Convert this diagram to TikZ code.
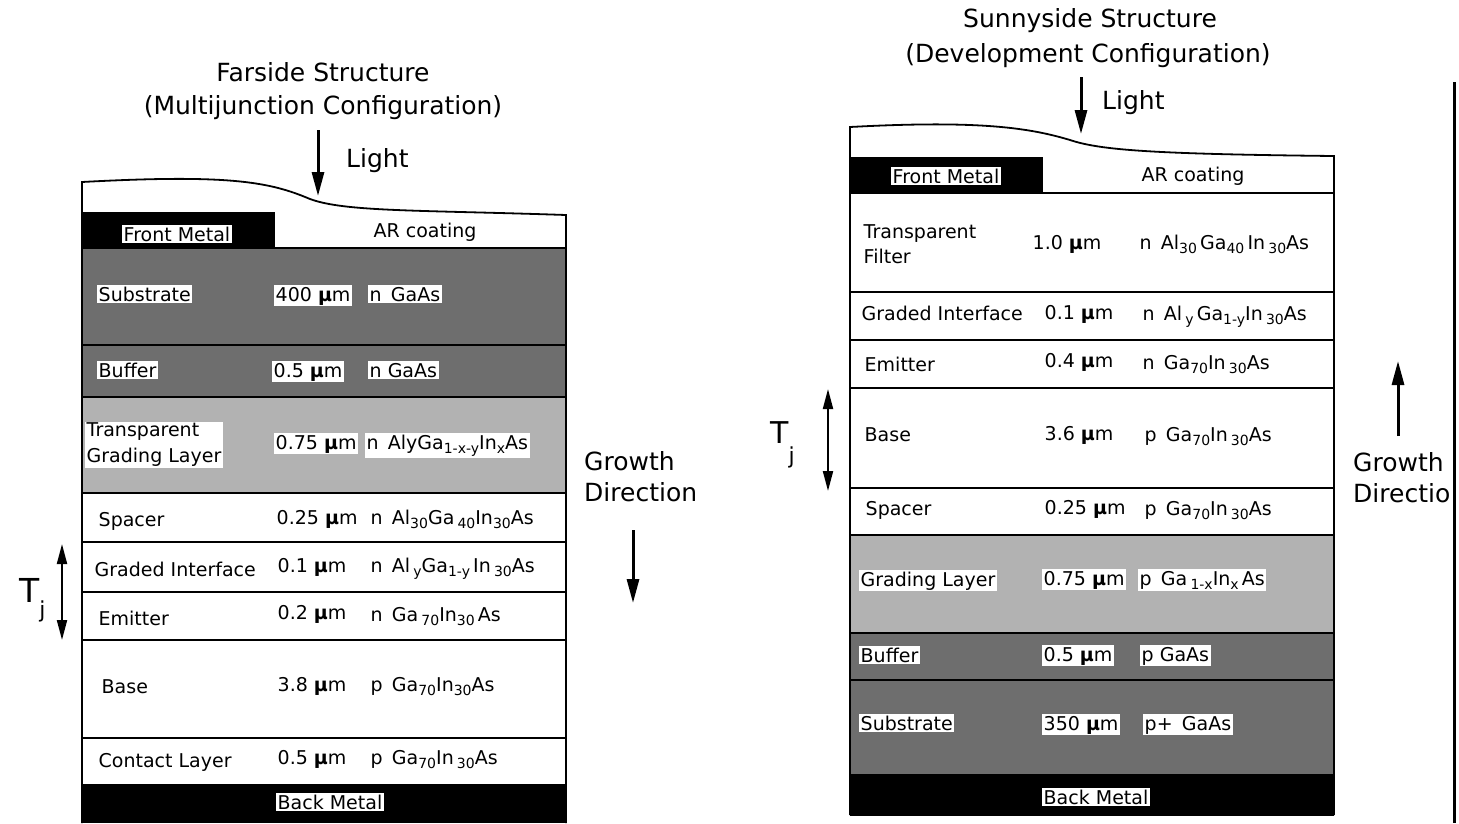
\documentclass[tikz,border=0pt]{standalone}
\usepackage{fontspec}
\setmainfont{DejaVu Sans}
\usetikzlibrary{arrows.meta}
\newcommand\sbx[1]{\raisebox{-0.45ex}{\fontsize{14}{14}\selectfont #1}}
\newcommand\um{{\bfseries µ}m}
\begin{document}
\begin{tikzpicture}[x=1pt,y=-1pt,
 lbl/.style={font=\fontsize{19}{23}\selectfont, inner sep=1.5pt, anchor=base west},
 wlbl/.style={lbl, fill=white},
 big/.style={font=\fontsize{25}{30}\selectfont, inner sep=0pt},
 lay/.style={draw=black, line width=1.8pt},
 thin/.style={draw=black, line width=1.2pt},
 dark/.style={fill=black!57},
 light/.style={fill=black!30},
 metal/.style={fill=black},
 bigarrow/.style={line width=3pt, -{Triangle[length=24pt,width=12pt]}},
 tjarrow/.style={line width=2pt, {Triangle[length=20pt,width=10pt]}-{Triangle[length=20pt,width=10pt]}}
]
\useasboundingbox (0,0) rectangle (1459,823);
\fill[white] (0,0) rectangle (1459,823);

% ================= LEFT: Farside =================
\fill[dark] (82,248) rectangle (566,397);
\fill[light] (82,397) rectangle (566,493);
\fill[metal] (82,212) rectangle (275,248);
\fill[metal] (82,785) rectangle (566,823);
\draw[thin] (82,345) -- (566,345);
\draw[lay] (82,248) -- (566,248);
\draw[lay] (82,397) -- (566,397);
\draw[lay] (82,493) -- (566,493);
\draw[lay] (82,542) -- (566,542);
\draw[lay] (82,592) -- (566,592);
\draw[lay] (82,640) -- (566,640);
\draw[lay] (82,738) -- (566,738);
\draw[lay] (82,785) -- (566,785);
\draw[lay] (82,823) -- (82,182) .. controls (230,174) and (270,182) .. (310,199)
   .. controls (345,212) and (420,210) .. (566,215) -- (566,823);

\node[big, anchor=base] (ltitle) at (323,81) {Farside Structure};
\node[big, anchor=base] (lsub) at (323,114) {(Multijunction Configuration)};
\coordinate (llA) at (318,130);
\coordinate (llB) at (318,196);
\draw[bigarrow] (llA) -- (llB);
\node[big, anchor=base west] (llight) at (346,167) {Light};

\node[wlbl, anchor=center] (lfm) at (177,234) {Front Metal};
\node[lbl, anchor=center] (lar) at (425,232) {AR coating};

\node[wlbl] (lsubn) at (97,301) {Substrate};
\node[wlbl] (lsubt) at (274,301) {400 \um};
\node[wlbl] (lsubc) at (368,301) {n\, GaAs};

\node[wlbl] (lbufn) at (97,377) {Buffer};
\node[wlbl] (lbuft) at (272,377) {0.5 \um};
\node[wlbl] (lbufc) at (368,377) {n GaAs};

\node[wlbl, anchor=west, align=left, font=\fontsize{19}{26}\selectfont] (ltgn) at (85,445) {Transparent\\Grading Layer};
\node[wlbl] (ltgt) at (274,449) {0.75 \um};
\node[wlbl] (ltgc) at (365,449) {n\, AlyGa\sbx{1-x-y}In\sbx{x}As};

\node[lbl] (lspn) at (97,526) {Spacer};
\node[lbl] (lspt) at (275,524) {0.25 \um};
\node[lbl] (lspc) at (369,524) {n\, Al\sbx{30}Ga\,\sbx{40}In\sbx{30}As};

\node[lbl] (lgin) at (93,576) {Graded Interface};
\node[lbl] (lgit) at (276,572) {0.1 \um};
\node[lbl] (lgic) at (369,572) {n\, Al\,\sbx{y}Ga\sbx{1-y}\,In\,\sbx{30}As};

\node[lbl] (lemn) at (97,625) {Emitter};
\node[lbl] (lemt) at (276,619) {0.2 \um};
\node[lbl] (lemc) at (369,621) {n\, Ga\,\sbx{70}In\sbx{30}\,As};

\node[lbl] (lban) at (100,693) {Base};
\node[lbl] (lbat) at (276,691) {3.8 \um};
\node[lbl] (lbac) at (369,691) {p\, Ga\sbx{70}In\sbx{30}As};

\node[lbl] (lcon) at (97,767) {Contact Layer};
\node[lbl] (lcot) at (276,764) {0.5 \um};
\node[lbl] (lcoc) at (369,764) {p\, Ga\sbx{70}In\,\sbx{30}As};

\node[wlbl, anchor=center] (lbm) at (330,802) {Back Metal};

\node[big, anchor=base west] (lgr1) at (584,470) {Growth};
\node[big, anchor=base west] (lgr2) at (584,501) {Direction};
\coordinate (lgA) at (633,530);
\coordinate (lgB) at (633,603);
\draw[bigarrow] (lgA) -- (lgB);

\node[anchor=base west, inner sep=0pt, font=\fontsize{33}{33}\selectfont] (ltj) at (19,602)
  {T\raisebox{-15pt}{\fontsize{22}{22}\selectfont j}};
\coordinate (ltA) at (62,544);
\coordinate (ltB) at (62,640);
\draw[tjarrow] (ltA) -- (ltB);

% ================= RIGHT: Sunnyside =================
\fill[light] (850,535) rectangle (1334,633);
\fill[dark] (850,633) rectangle (1334,775);
\fill[metal] (850,157) rectangle (1043,193);
\fill[metal] (850,775) rectangle (1334,815);
\draw[lay] (850,193) -- (1334,193);
\draw[lay] (850,292) -- (1334,292);
\draw[lay] (850,340) -- (1334,340);
\draw[lay] (850,388) -- (1334,388);
\draw[lay] (850,488) -- (1334,488);
\draw[lay] (850,535) -- (1334,535);
\draw[lay] (850,633) -- (1334,633);
\draw[thin] (850,680) -- (1334,680);
\draw[lay] (850,775) -- (1334,775);
\draw[lay] (850,815) -- (850,127) .. controls (980,120) and (1030,128) .. (1070,140)
   .. controls (1100,150) and (1150,154) .. (1334,156) -- (1334,815);
\draw[lay] (850,815) -- (1334,815);

\node[big, anchor=base] (rtitle) at (1090,27) {Sunnyside Structure};
\node[big, anchor=base] (rsub) at (1088,62) {(Development Configuration)};
\coordinate (rlA) at (1081,77);
\coordinate (rlB) at (1081,134);
\draw[bigarrow] (rlA) -- (rlB);
\node[big, anchor=base west] (rlight) at (1102,109) {Light};

\node[wlbl, anchor=center] (rfm) at (946,176) {Front Metal};
\node[lbl, anchor=center] (rar) at (1193,176) {AR coating};

\node[lbl, anchor=west, align=left, font=\fontsize{19}{25}\selectfont] (rtfn) at (862,244) {Transparent\\Filter};
\node[lbl] (rtft) at (1031,249) {1.0 \um};
\node[lbl] (rtfc) at (1138,249) {n\, Al\sbx{30}\,Ga\sbx{40}\,In\,\sbx{30}As};

\node[lbl] (rgin) at (860,320) {Graded Interface};
\node[lbl] (rgit) at (1043,319) {0.1 \um};
\node[lbl] (rgic) at (1141,320) {n\, Al\,\sbx{y}\,Ga\sbx{1-y}In\,\sbx{30}As};

\node[lbl] (remn) at (863,371) {Emitter};
\node[lbl] (remt) at (1043,367) {0.4 \um};
\node[lbl] (remc) at (1141,369) {n\, Ga\sbx{70}In\,\sbx{30}As};

\node[lbl] (rban) at (863,441) {Base};
\node[lbl] (rbat) at (1043,440) {3.6 \um};
\node[lbl] (rbac) at (1143,441) {p\, Ga\sbx{70}In\,\sbx{30}As};

\node[lbl] (rspn) at (864,515) {Spacer};
\node[lbl] (rspt) at (1043,514) {0.25 \um};
\node[lbl] (rspc) at (1143,515) {p\, Ga\sbx{70}In\,\sbx{30}As};

\node[wlbl] (rgrn) at (859,586) {Grading Layer};
\node[wlbl] (rgrt) at (1042,585) {0.75 \um};
\node[wlbl] (rgrc) at (1138,585) {p\, Ga\,\sbx{1-x}In\sbx{x}\,As};

\node[wlbl] (rbun) at (859,662) {Buffer};
\node[wlbl] (rbut) at (1042,661) {0.5 \um};
\node[wlbl] (rbuc) at (1140,661) {p GaAs};

\node[wlbl] (rsun) at (859,730) {Substrate};
\node[wlbl] (rsut) at (1042,730) {350 \um};
\node[wlbl] (rsuc) at (1143,730) {p+\, GaAs};

\node[wlbl, anchor=center] (rbm) at (1096,797) {Back Metal};

\coordinate (rgA) at (1398,436);
\coordinate (rgB) at (1398,361);
\draw[bigarrow] (rgA) -- (rgB);
\node[big, anchor=base west] (rgr1) at (1353,471) {Growth};
\node[big, anchor=base west] (rgr2) at (1353,502) {Directio};

\node[anchor=base west, inner sep=0pt, font=\fontsize{30}{30}\selectfont] (rtj) at (770,443)
  {T\raisebox{-20pt}{\fontsize{22}{22}\selectfont j}};
\coordinate (rtA) at (828,389);
\coordinate (rtB) at (828,491);
\draw[tjarrow] (rtA) -- (rtB);

% scan edge line at right
\coordinate (edA) at (1454,82);
\coordinate (edB) at (1454,823);
\draw[line width=3pt] (edA) -- (edB);
\end{tikzpicture}
\end{document}
